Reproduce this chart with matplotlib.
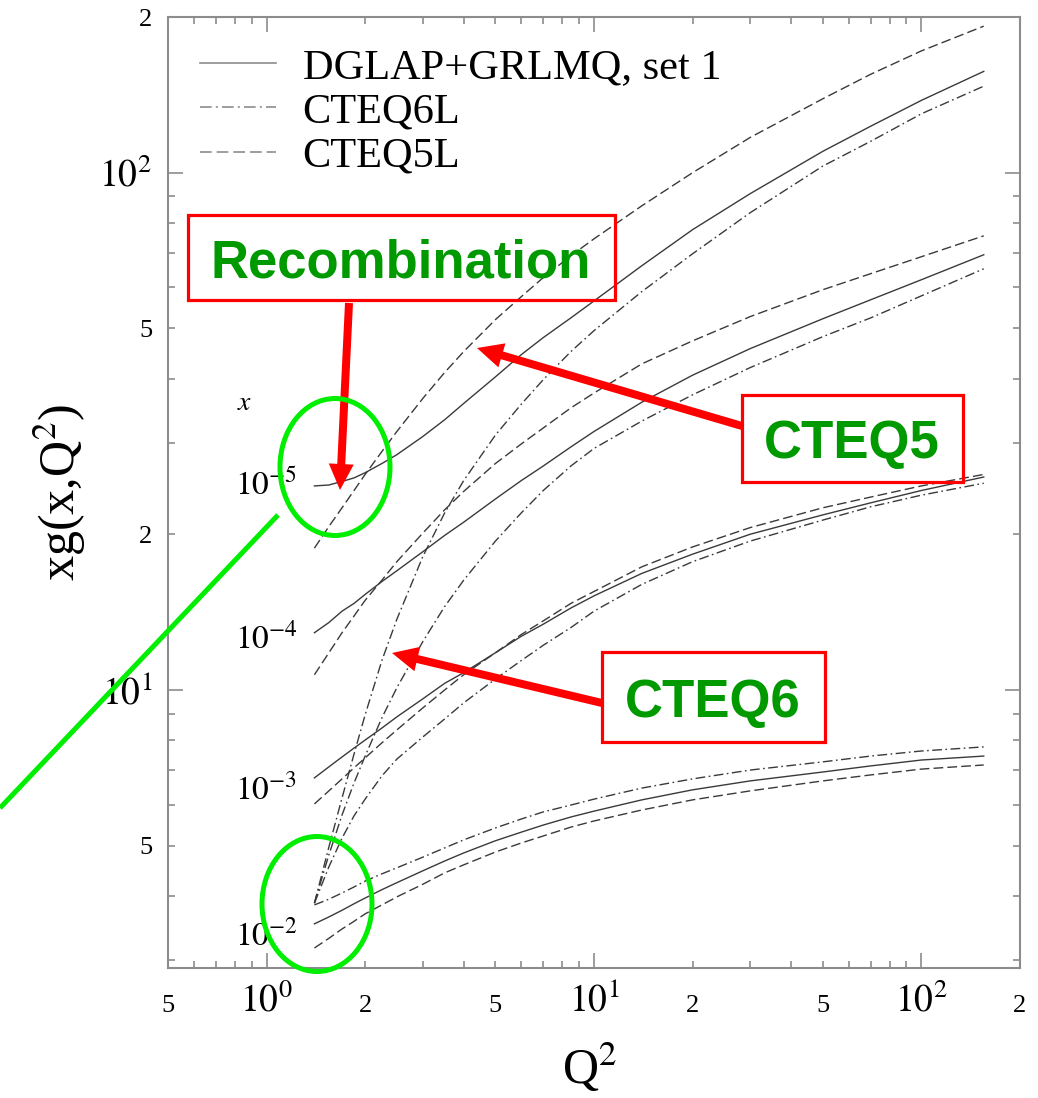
import numpy as np
import matplotlib
matplotlib.use("Agg")
import matplotlib.pyplot as plt
from matplotlib.lines import Line2D
from matplotlib.patches import Ellipse, Rectangle, FancyArrow
from matplotlib.ticker import FixedLocator, FuncFormatter

plt.rcParams["font.family"] = ["Liberation Serif", "DejaVu Serif"]
plt.rcParams["mathtext.fontset"] = "stix"

# Q^2 grid (GeV^2)
q2 = [1.4, 1.55, 1.7, 1.85, 2, 2.25, 2.5, 3, 3.5, 4, 5, 6, 7, 8.5, 10,
      14, 20, 30, 50, 70, 100, 155]

# xg(x, Q^2), DGLAP+GRLMQ set 1
grlmq_x5 = [24.8, 24.9, 25.3, 25.7, 26.3, 27.4, 28.5, 30.9, 33.3, 35.8, 40.3,
            44.5, 48.0, 52.4, 56.5, 66.1, 77.6, 91.1, 110, 123, 138, 157]
grlmq_x4 = [12.9, 13.5, 14.2, 14.7, 15.3, 16.2, 17.0, 18.5, 19.9, 21.1, 23.4,
            25.4, 27.1, 29.5, 31.6, 36.0, 40.6, 45.7, 52.2, 56.8, 62.1, 69.4]
grlmq_x3 = [6.76, 7.10, 7.42, 7.72, 8.00, 8.44, 8.87, 9.61, 10.3, 10.8, 11.8,
            12.7, 13.4, 14.4, 15.2, 16.8, 18.3, 20.0, 21.8, 23.0, 24.3, 25.8]
grlmq_x2 = [3.53, 3.64, 3.75, 3.86, 3.96, 4.11, 4.24, 4.47, 4.67, 4.84, 5.11,
            5.31, 5.48, 5.68, 5.83, 6.13, 6.41, 6.67, 6.94, 7.13, 7.32, 7.45]

# CTEQ6L
cteq6_x5 = [3.87, 4.97, 6.18, 7.52, 8.95, 11.4, 13.7, 18.1, 22.0, 25.4, 31.1,
            35.7, 39.8, 45.1, 49.5, 58.9, 69.7, 83.7, 103, 115, 130, 147]
cteq6_x4 = [3.87, 4.80, 5.73, 6.61, 7.45, 8.83, 10.1, 12.4, 14.5, 16.3, 19.4,
            22.0, 24.3, 27.1, 29.3, 33.1, 37.2, 42.0, 48.2, 52.4, 57.8, 65.2]
cteq6_x3 = [3.87, 4.55, 5.17, 5.71, 6.15, 6.82, 7.35, 8.11, 8.79, 9.44, 10.5,
            11.4, 12.2, 13.2, 14.2, 16.0, 17.7, 19.4, 21.3, 22.6, 23.8, 25.1]
cteq6_x2 = [3.84, 3.94, 4.05, 4.16, 4.27, 4.41, 4.53, 4.75, 4.95, 5.13, 5.41,
            5.63, 5.81, 5.99, 6.15, 6.46, 6.73, 7.00, 7.26, 7.45, 7.62, 7.76]

# CTEQ5L
cteq5_x5 = [18.8, 20.7, 22.5, 24.3, 26.1, 28.9, 31.6, 36.6, 41.1, 45.1, 52.0,
            57.6, 62.7, 69.1, 74.5, 86.3, 100, 117, 139, 155, 172, 192]
cteq5_x4 = [10.7, 11.8, 12.9, 13.9, 14.9, 16.3, 17.7, 20.1, 22.3, 24.2, 27.4,
            29.9, 32.1, 35.1, 37.5, 42.7, 47.3, 52.7, 59.4, 63.8, 68.8, 75.5]
cteq5_x3 = [6.02, 6.38, 6.73, 7.07, 7.39, 7.90, 8.37, 9.23, 10.0, 10.7, 11.8,
            12.8, 13.6, 14.7, 15.5, 17.3, 18.9, 20.6, 22.5, 23.6, 24.8, 26.1]
cteq5_x2 = [3.17, 3.31, 3.45, 3.57, 3.69, 3.84, 3.98, 4.21, 4.43, 4.59, 4.86,
            5.06, 5.22, 5.43, 5.58, 5.86, 6.13, 6.38, 6.67, 6.85, 7.03, 7.16]

set_names = ["DGLAP+GRLMQ, set 1", "CTEQ6L", "CTEQ5L"]
x_labels = [r"$10^{-5}$", r"$10^{-4}$", r"$10^{-3}$", r"$10^{-2}$"]

SOLID = "-"
DASHDOT = (0, (7, 2.5, 1.2, 2.5))
DASHED = (0, (7, 3))
LINE_COLOR = "#3a3a3a"
GRAY = "#8c8c8c"
RED = "#ff0000"
GREEN = "#009900"
LIME = "#00ee00"

fig = plt.figure(figsize=(10.38, 10.98), dpi=100)
ax = fig.add_axes([168 / 1038, 130 / 1098, 852 / 1038, 951 / 1098])
ax.set_xscale("log")
ax.set_yscale("log")
ax.set_xlim(0.5, 200)
ax.set_ylim(2.9, 200)

for vals in (grlmq_x5, grlmq_x4, grlmq_x3, grlmq_x2):
    ax.plot(q2, vals, ls=SOLID, color=LINE_COLOR, lw=1.0)
for vals in (cteq6_x5, cteq6_x4, cteq6_x3, cteq6_x2):
    ax.plot(q2, vals, ls=DASHDOT, color=LINE_COLOR, lw=1.0)
for vals in (cteq5_x5, cteq5_x4, cteq5_x3, cteq5_x2):
    ax.plot(q2, vals, ls=DASHED, color=LINE_COLOR, lw=1.0)

# x values written next to the curve starts
ax.text(0.815, 34.8, r"$x$", fontsize=20, ha="left", va="baseline")
for lab, yb in zip(x_labels, [23.8, 12.05, 6.13, 3.21]):
    ax.text(0.80, yb, lab, fontsize=24, ha="left", va="baseline")

# legend with proxy handles
handles = [Line2D([], [], color=GRAY, lw=1.2, ls=s) for s in (SOLID, DASHDOT, DASHED)]
ax.legend(handles, set_names, loc="upper left", bbox_to_anchor=(0.0376, 0.967),
          frameon=False, prop={"family": "Liberation Serif", "size": 30.5},
          handlelength=1.8, handletextpad=0.62, labelspacing=0.13,
          borderaxespad=0, borderpad=0)

# ticks
def major_fmt(v, pos):
    return r"$10^{%d}$" % int(round(np.log10(v)))

def minor_fmt(v, pos):
    m = int(round(v / 10 ** np.floor(np.log10(v) + 1e-9)))
    return str(m) if m in (2, 5) else ""

subs = [m * 10.0 ** e for e in (-1, 0, 1, 2) for m in range(2, 10)]
ax.xaxis.set_major_locator(FixedLocator([1, 10, 100]))
ax.xaxis.set_minor_locator(FixedLocator([v for v in subs if 0.5 <= v <= 200]))
ax.yaxis.set_major_locator(FixedLocator([10, 100]))
ax.yaxis.set_minor_locator(FixedLocator([v for v in subs if 2.9 <= v <= 200]))
for axis in (ax.xaxis, ax.yaxis):
    axis.set_major_formatter(FuncFormatter(major_fmt))
    axis.set_minor_formatter(FuncFormatter(minor_fmt))

ax.tick_params(which="both", direction="in", top=True, right=True,
               color=GRAY, width=1.2)
ax.tick_params(which="major", length=10.5, labelsize=27)
ax.tick_params(which="minor", length=5, labelsize=19)
ax.tick_params(axis="x", which="both", pad=31.5)
ax.tick_params(axis="y", which="both", pad=11.5)
for lab in ax.get_xticklabels(which="both"):
    lab.set_verticalalignment("baseline")
for sp in ax.spines.values():
    sp.set_color(GRAY)
    sp.set_linewidth(1.5)

ax.set_xlabel(r"Q$^2$", fontsize=36, va="center")
ax.xaxis.set_label_coords(0.495, -0.105)
ax.set_ylabel(r"xg(x,Q$^2$)", fontsize=36, va="center")
ax.yaxis.set_label_coords(-0.127, 0.5)

# annotation layer in pixel units
ov = fig.add_axes([0, 0, 1, 1], zorder=5)
ov.set_xlim(0, 1038)
ov.set_ylim(1098, 0)
ov.axis("off")

boxes = [((188, 215), 427, 85, "Recombination", 401, 278),
         ((742, 395), 221, 87, "CTEQ5", 852, 458),
         ((602, 652), 223, 90, "CTEQ6", 713, 717)]
for xy, w, h, txt, tx, ty in boxes:
    ov.add_patch(Rectangle(xy, w, h, fill=False, edgecolor=RED, lw=2.3))
    ov.text(tx, ty, txt, ha="center", va="baseline", color=GREEN, fontsize=38,
            fontweight="bold", family="Liberation Sans")

for x0, y0, x1, y1 in [(349, 303, 340, 490), (742, 426, 477, 348), (602, 703, 392, 653)]:
    ov.add_patch(FancyArrow(x0, y0, x1 - x0, y1 - y0, width=8, head_width=25,
                            head_length=26, length_includes_head=True,
                            color=RED, lw=0))

ov.add_patch(Ellipse((335, 467), 110, 137, fill=False, edgecolor=LIME, lw=3.6))
ov.add_patch(Ellipse((317, 904), 110, 135, fill=False, edgecolor=LIME, lw=3.6))
ov.plot([0, 278], [808, 515], color=LIME, lw=3.6, solid_capstyle="butt")

fig.savefig("out.png", dpi=100, facecolor="white")
